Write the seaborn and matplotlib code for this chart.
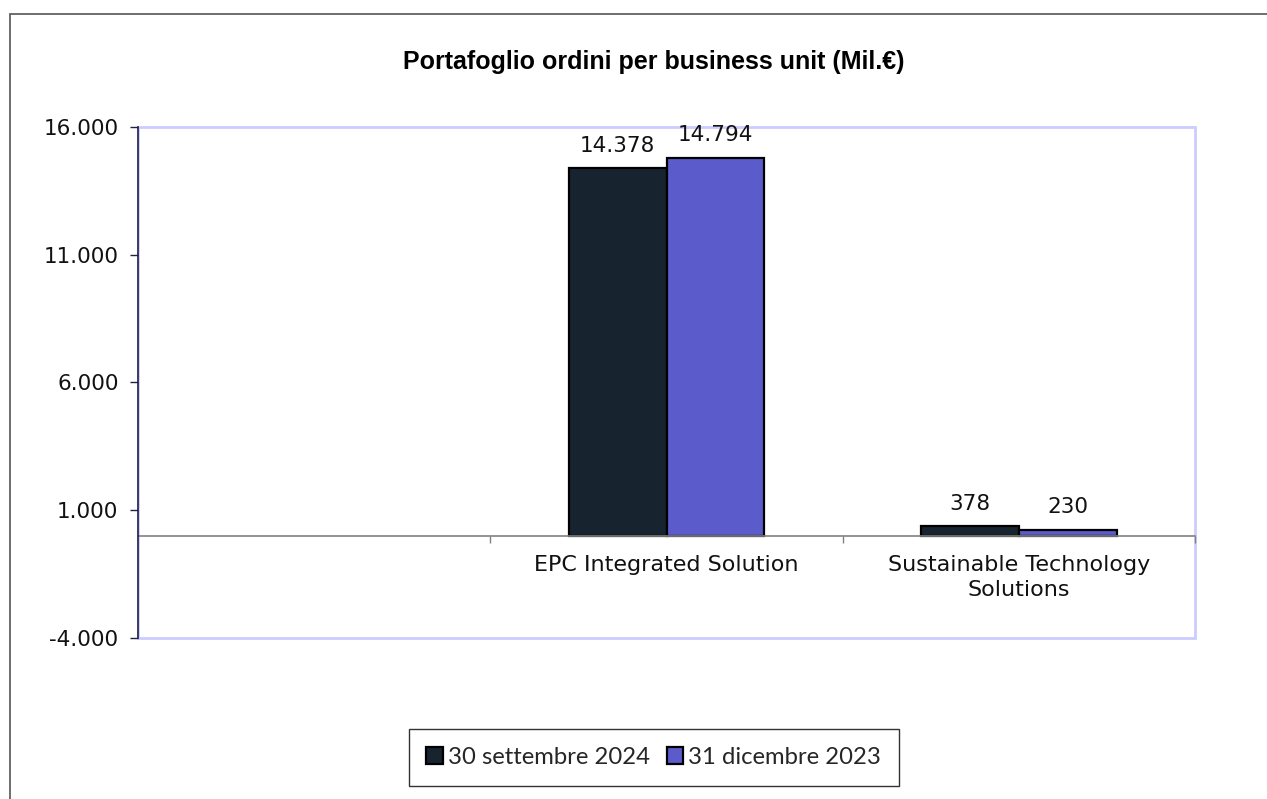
import numpy as np
import pandas as pd
import matplotlib
import matplotlib.pyplot as plt
from matplotlib.patches import Rectangle
import seaborn as sns

matplotlib.use('Agg')

# Data
categories = ["", "EPC Integrated Solution", "Sustainable Technology\nSolutions"]
series_names = ["30 settembre 2024", "31 dicembre 2023"]
values_sep_2024 = [np.nan, 14378, 378]
values_dec_2023 = [np.nan, 14794, 230]
y_ticks = [-4000, 1000, 6000, 11000, 16000]
colors = ["#17232f", "#5b5bcc"]


def it_fmt(v):
    return f"{v:,.0f}".replace(",", ".")


df = pd.DataFrame({
    "categoria": categories * 2,
    "serie": [series_names[0]] * 3 + [series_names[1]] * 3,
    "valore": values_sep_2024 + values_dec_2023,
})

sns.set_style("white")
plt.rcParams['font.family'] = ['DejaVu Sans']

fig = plt.figure(figsize=(12.67, 7.99), dpi=100)
ax = fig.add_axes([0.1089, 0.2015, 0.8343, 0.6396])

sns.barplot(data=df, x="categoria", y="valore", hue="serie", order=categories,
            hue_order=series_names, palette=colors, width=0.556, dodge=True,
            edgecolor="black", linewidth=1.6, saturation=1, legend=False, ax=ax)

ax.set_xlim(-0.5, 2.5)
ax.set_ylim(-4000, 16000)
ax.set_yticks(y_ticks)
ax.set_yticklabels([it_fmt(v) for v in y_ticks], fontsize=15.5, color="#111111")
ax.tick_params(axis='y', direction='out', length=6, width=1, color="#222244", pad=8, left=True)
ax.set_xlabel("")
ax.set_ylabel("")

# category axis at zero
ax.spines['bottom'].set_position(('data', 0))
ax.spines['bottom'].set_color("#808080")
ax.spines['bottom'].set_linewidth(1.2)
ax.set_xticks([0, 1, 2])
ax.set_xticklabels(categories, fontsize=16, color="#111111", linespacing=1.3)
ax.set_xticks([0.5, 1.5, 2.5], minor=True)
ax.tick_params(axis='x', which='major', length=0, pad=14)
ax.tick_params(axis='x', which='minor', direction='out', length=5, width=1,
               color="#808080", bottom=True)

for side in ['top', 'right']:
    ax.spines[side].set_visible(False)
ax.spines['left'].set_color("#222244")
ax.spines['left'].set_linewidth(1.2)
ax.spines['left'].set_zorder(5)
ax.add_patch(Rectangle((0, 0), 1, 1, transform=ax.transAxes, fill=False,
                       edgecolor="#ccccff", linewidth=2, clip_on=False, zorder=0))

# data labels
for cont in ax.containers:
    for bar in cont:
        h = bar.get_height()
        if np.isnan(h):
            continue
        ax.annotate(it_fmt(h), (bar.get_x() + bar.get_width() / 2, h),
                    xytext=(0, 9), textcoords='offset points',
                    ha='center', va='bottom', fontsize=15.5, color="#111111")

fig.suptitle("Portafoglio ordini per business unit (Mil.€)", x=0.516, y=0.938,
             fontsize=18, fontweight='bold', family='Liberation Sans', color="black")

handles = [cont.patches[1] for cont in ax.containers]
leg = fig.legend(handles, series_names, loc='center', bbox_to_anchor=(0.516, 0.052),
                 ncol=2, frameon=True, fancybox=False, edgecolor="black",
                 prop={'family': 'Lato', 'size': 17.2}, handlelength=0.7,
                 handleheight=0.7, handletextpad=0.2, columnspacing=0.7,
                 borderpad=0.75)
leg.get_frame().set_linewidth(1)

# outer chart border
fig.add_artist(Rectangle((10 / 1267, -0.1), 1.2, (799 - 14) / 799 + 0.1,
                         transform=fig.transFigure, fill=False,
                         edgecolor="#555555", linewidth=1.2))

fig.savefig("out.png", dpi=100)
